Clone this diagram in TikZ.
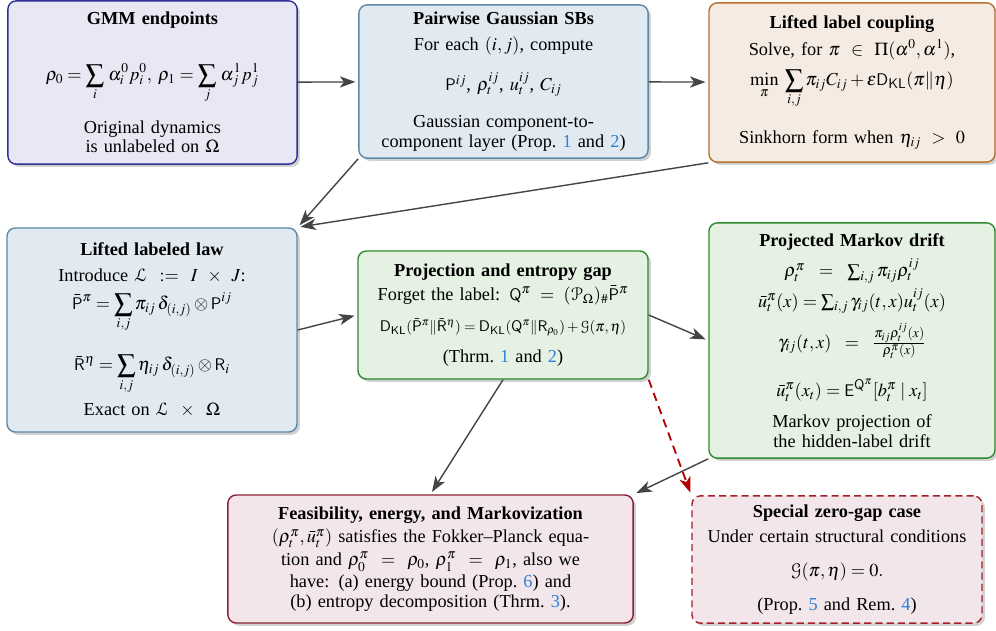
\documentclass[tikz,border=0pt]{standalone}
\usepackage{amsmath}
\usepackage{mathptmx}
\usepackage[mathscr]{eucal}
\usepackage{fontspec}
\setmainfont{Liberation Serif}
\setsansfont{Liberation Sans}
\usetikzlibrary{arrows.meta, shadows}

\definecolor{refblue}{HTML}{2F7FD8}
\definecolor{arrowgray}{HTML}{444444}
\definecolor{dashred}{HTML}{B00000}
\definecolor{endptline}{HTML}{2E2E96}
\definecolor{endptfill}{HTML}{E8E8F5}
\definecolor{steelline}{HTML}{5A8AA8}
\definecolor{steelfill}{HTML}{E2EAF1}
\definecolor{brownline}{HTML}{B8702E}
\definecolor{brownfill}{HTML}{F5EBE2}
\definecolor{greenline}{HTML}{2E8B2E}
\definecolor{greenfill}{HTML}{E5F1E3}
\definecolor{maroonline}{HTML}{8B2035}
\definecolor{maroonfill}{HTML}{F3E6EA}
\definecolor{zeroline}{HTML}{A51E28}
\newcommand{\rf}[1]{\textcolor{refblue}{#1}}

\begin{document}
\begin{tikzpicture}[
            x = 0.025cm, y = -0.025cm, % pixel grid, y downwards
            > = {Stealth[length=11pt, width=8pt, inset=3pt]}, % arrow head style
            shorten > = 2pt, % don't touch arrow head to node
            line width = 1pt,
            font = \fontsize{13}{14}\selectfont
        ]

        \tikzstyle{every node}=[
            align = center,
            inner sep = 3pt
        ]
        \tikzstyle{box}=[
            draw,
            line width = 1pt,
            rounded corners = 6pt,
            drop shadow = {shadow xshift=2pt, shadow yshift=-2pt, opacity=0.3, fill=black!60}
        ]
        \tikzstyle{endpt}=[box, draw = endptline, fill = endptfill]
        \tikzstyle{steel}=[box, draw = steelline, fill = steelfill]
        \tikzstyle{brown}=[box, draw = brownline, fill = brownfill]
        \tikzstyle{green}=[box, draw = greenline, fill = greenfill]
        \tikzstyle{maroon}=[box, draw = maroonline, fill = maroonfill]

        \useasboundingbox (0,0) rectangle (996,631);

        \node[endpt, minimum width=7.23cm, minimum height=4.08cm, text width=7cm] (gmm) at (152.5,82.5) {%
            \textbf{GMM endpoints}\\[24pt]
            \mbox{$\displaystyle\rho_0 = \sum_i\, \alpha_i^0 p_i^0,\; \rho_1 = \sum_j\, \alpha_j^1 p_j^1$}\\[11pt]
            Original dynamics\\ is unlabeled on $\Omega$};

        \node[steel, minimum width=7.23cm, minimum height=3.83cm, text width=7cm] (pair) at (503.5,81.5) {%
            \textbf{Pairwise Gaussian SBs}\\[4pt]
            For each $(i,j)$, compute\\[12pt]
            \mbox{$\mathsf{P}^{ij}$, $\rho_t^{ij}$, $u_t^{ij}$, $C_{ij}$}\\[12pt]
            Gaussian component-to-\\
            component layer (Prop.~\rf{1} and \rf{2})};

        \node[brown, minimum width=7.15cm, minimum height=3.98cm, text width=6.9cm] (coup) at (852,82.5) {%
            \textbf{Lifted label coupling}\\[4pt]
            Solve, for $\pi \;\in\; \Pi(\alpha^0, \alpha^1)$,\\[6pt]
            \mbox{$\displaystyle\min_\pi\; \sum_{i,j} \pi_{ij} C_{ij} + \varepsilon \mathsf{D}_{\mathsf{KL}}(\pi \| \eta)$}\\[15pt]
            Sinkhorn form when $\eta_{ij} \;>\; 0$};

        \node[steel, minimum width=7.25cm, minimum height=5.1cm, text width=7cm] (law) at (152,330) {%
            \textbf{Lifted labeled law}\\[4pt]
            Introduce $\mathscr{L} \;:=\; I \;\times\; J$:\\[6pt]
            \mbox{$\displaystyle\bar{\mathsf{P}}^\pi = \sum_{i,j} \pi_{ij}\, \delta_{(i,j)} \otimes \mathsf{P}^{ij}$}\\[15pt]
            \mbox{$\displaystyle\bar{\mathsf{R}}^\eta = \sum_{i,j} \eta_{ij}\, \delta_{(i,j)} \otimes \mathsf{R}_i$}\\[5pt]
            Exact on $\mathscr{L} \;\times\; \Omega$};

        \node[green, minimum width=7.25cm, minimum height=3.2cm, text width=7cm] (proj) at (503,315) {%
            \textbf{Projection and entropy gap}\\[3pt]
            Forget the label: $\mathsf{Q}^\pi \;=\; (\mathscr{P}_\Omega)_\# \bar{\mathsf{P}}^\pi$\\[8pt]
            {\fontsize{10.5}{12}\selectfont \mbox{$\mathsf{D}_{\mathsf{KL}}(\bar{\mathsf{P}}^\pi \| \bar{\mathsf{R}}^\eta) = \mathsf{D}_{\mathsf{KL}}(\mathsf{Q}^\pi \| \mathsf{R}_{\rho_0}) + \mathscr{G}(\pi, \eta)$}}\\[8pt]
            (Thrm.~\rf{1} and \rf{2})};

        \node[green, minimum width=7.15cm, minimum height=5.88cm, text width=6.9cm] (drift) at (852,340.5) {%
            \textbf{Projected Markov drift}\\[5pt]
            $\rho_t^\pi \;=\; \sum_{i,j} \pi_{ij} \rho_t^{ij}$\\[3pt]
            \mbox{$\bar{u}_t^\pi(x) = \sum_{i,j} \gamma_{ij}(t,x) u_t^{ij}(x)$}\\[6pt]
            $\gamma_{ij}(t,x) \;=\; \frac{\pi_{ij} \rho_t^{ij}(x)}{\rho_t^\pi(x)}$\\[14pt]
            \mbox{$\bar{u}_t^\pi(x_t) = \mathsf{E}^{\mathsf{Q}^\pi}[b_t^\pi \mid x_t]$}\\[8pt]
            Markov projection of\\ the hidden-label drift};

        \node[maroon, minimum width=10.13cm, minimum height=3.2cm, text width=9.9cm] (feas) at (430.5,559) {%
            \textbf{Feasibility, energy, and Markovization}\\[3pt]
            $(\rho_t^\pi, \bar{u}_t^\pi)$ satisfies the Fokker--Planck equa-\\[2pt]
            tion and $\rho_0^\pi \;=\; \rho_0$, $\rho_1^\pi \;=\; \rho_1$, also we\\[2pt]
            have: (a) energy bound (Prop.~\rf{6}) and\\
            (b) entropy decomposition (Thrm.~\rf{3}).};

        \node[maroon, dashed, dash pattern = on 5pt off 3pt, draw = zeroline, minimum width=7.25cm, minimum height=3.18cm, text width=7cm] (zero) at (837,559.5) {%
            \textbf{Special zero-gap case}\\[4pt]
            Under certain structural conditions\\[10pt]
            \mbox{$\mathscr{G}(\pi, \eta) = 0.$}\\[10pt]
            (Prop.~\rf{5} and Rem.~\rf{4})};

        \path[->, arrowgray] (gmm) edge node {} (pair);
        \path[->, arrowgray] (pair) edge node {} (coup);
        \path[->, arrowgray] (pair.south west) edge node {} (law.north east);
        \path[->, arrowgray] (coup.south west) edge node {} (law.north east);
        \path[->, arrowgray] (law.east) edge node {} (proj.west);
        \path[->, arrowgray] (proj.east) edge node {} (drift.west);
        \path[->, arrowgray] (proj.south) edge node {} (feas.north);
        \path[->, arrowgray] (drift.south west) edge node {} (feas.north east);
        \path[->, dashred, line width = 1.3pt, dash pattern = on 6pt off 4pt] (proj.south east) edge node {} (zero.north west);
    \end{tikzpicture}
\end{document}
